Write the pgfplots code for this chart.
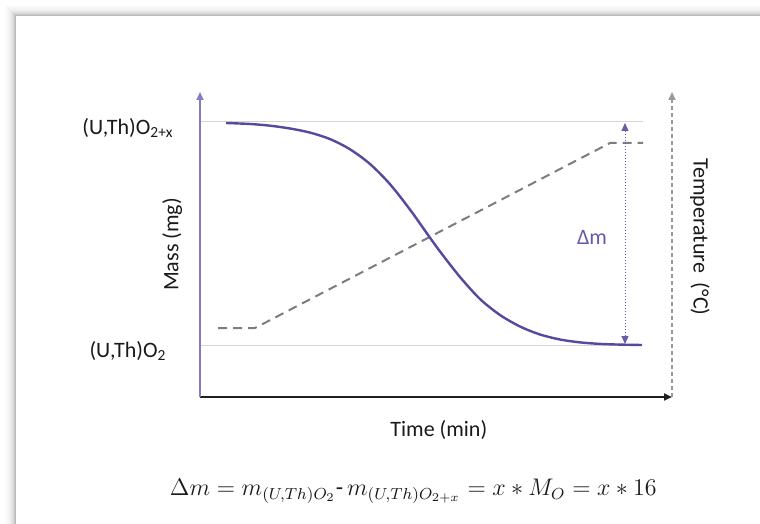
\documentclass[border=0pt]{standalone}
\usepackage[no-math]{fontspec}
\setmainfont{Carlito}
\usepackage{pgfplots}
\pgfplotsset{compat=1.18}
\usetikzlibrary{arrows.meta}
\definecolor{curve}{RGB}{88,72,158}
\definecolor{axpurple}{RGB}{135,122,196}
\definecolor{dmcol}{RGB}{105,90,170}
\definecolor{tempgray}{RGB}{125,125,125}
\definecolor{refgray}{RGB}{212,212,212}
\definecolor{txt}{RGB}{25,25,25}
\begin{document}
\begin{tikzpicture}
\path[use as bounding box, fill=white] (0,0) rectangle (380pt,-262pt);
\foreach \i/\s in {10/1,9/2,8/3,7/4,6/5,5/7,4/9,3/12,2/16,1/21,0/27} {
  \draw[black!\s, line width=0.55pt] (8pt-\i*0.5pt-0.25pt, -262pt) -- (8pt-\i*0.5pt-0.25pt, -8pt+\i*0.5pt+0.25pt) -- (380pt, -8pt+\i*0.5pt+0.25pt);
}
\fill[white] (8pt,-8pt) rectangle (380pt,-262pt);
\begin{axis}[
  at={(100pt,-198.5pt)}, anchor=south west,
  scale only axis, width=236pt, height=152.5pt,
  xmin=200, xmax=672, ymin=127, ymax=432,
  axis lines=left, clip=false,
  font=\fontsize{11}{13}\selectfont,
  xtick=\empty,
  ytick={179,402},
  yticklabels={(U,Th)O\textsubscript{2}, (U,Th)O\textsubscript{2+x}},
  major tick length=0pt,
  yticklabel style={anchor=center, xshift=-36pt, yshift=-3pt, text=txt},
  x axis line style={black!88, line width=1pt, -{Triangle[length=4pt,width=3.5pt]}},
  y axis line style={axpurple, line width=1pt, -{Triangle[length=4pt,width=3.5pt]}},
  xlabel={Time (min)},
  xlabel style={at={(axis description cs:0.506,-0.108)}, anchor=center, text=txt},
  ylabel={Mass (mg)},
  ylabel style={at={(axis description cs:-0.059,0.5)}, anchor=center, text=txt},
]
% reference levels
\addplot[refgray, line width=0.5pt] coordinates {(201,402) (643,402)};
\addplot[refgray, line width=0.5pt] coordinates {(201,179) (641,179)};
% temperature programme
\addplot[tempgray, line width=1pt, dash pattern=on 4.5pt off 3pt] coordinates {
  (218,196) (255,196) (610,381) (643,381)};
% mass curve
\addplot[curve, line width=1.2pt, smooth] coordinates {
  (226,401) (250,400) (270,398.3) (290,395.5) (310,391.4) (330,384.9)
  (350,374.7) (370,360) (390,339.8) (410,314.4) (427,290.5) (440,272.5)
  (460,247) (480,225) (500,209) (520,197.5) (540,189.5) (560,184.5)
  (580,181.6) (600,180.1) (620,179.4) (642,179)};
% delta m arrow
\addplot[dmcol, line width=0.5pt, densely dotted, {Triangle[length=4pt,width=3.5pt]}-{Triangle[length=4pt,width=3.5pt]}] coordinates {(625,180) (625,401)};
\node[text=dmcol, font=\fontsize{11}{13}\selectfont] at (axis cs:592,287) {Δm};
% temperature axis
\addplot[black!40, line width=0.75pt, dash pattern=on 2pt off 1.5pt, -{Triangle[length=4pt,width=3.5pt]}] coordinates {(672,127) (672,432)};
\node[rotate=-90, anchor=center, text=txt, font=\fontsize{11}{13}\selectfont] at (axis description cs:1.059,0.525) {Temperature\ \ (°C)};
% formula
\node[anchor=center, text=txt, font=\fontsize{12}{14}\selectfont] at (axis description cs:0.452,-0.31)
  {$\Delta m = m_{(U,Th)O_2}\mbox{-}\, m_{(U,Th)O_{2+x}} = x \ast M_O = x \ast 16$};
\end{axis}
\end{tikzpicture}
\end{document}
